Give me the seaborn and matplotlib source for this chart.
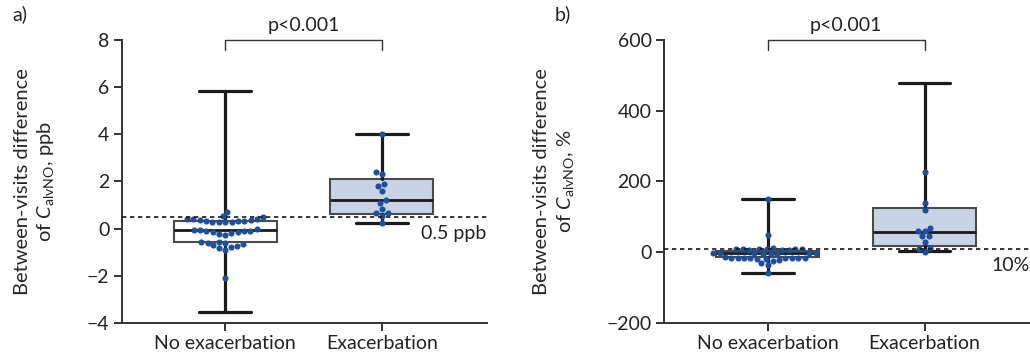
import numpy as np
import pandas as pd
import seaborn as sns
import matplotlib.pyplot as plt

groups = ["No exacerbation", "Exacerbation"]

# panel a: between-visits difference, ppb
a_no = [0.72, 0.52, 0.48, 0.42, 0.40, 0.40, 0.38, 0.36, 0.34, 0.32, 0.32, 0.30,
        0.28, 0.30, 0.30, -0.02, -0.05, -0.05, -0.08, -0.10, -0.12, -0.15, -0.15,
        -0.18, -0.22, -0.25, -0.55, -0.58, -0.60, -0.62, -0.65, -0.70, -0.75,
        -0.78, -0.82, -0.90, -2.08]
a_ex = [4.0, 2.4, 2.3, 1.9, 1.8, 1.6, 1.2, 1.1, 0.85, 0.65, 0.65, 0.55, 0.22]
# box stats: whislo, q1, median, q3, whishi
a_box = [[-3.55, -0.55, -0.05, 0.32, 5.82], [0.22, 0.62, 1.2, 2.1, 4.0]]

# panel b: between-visits difference, %
b_no = [150, 48, 13, 10, 10, 9, 9, 8, 8, 7, 7, 6, -2, -2, -3, -3, -3, -4, -4, -5,
        -14, -15, -15, -15, -16, -16, -16, -17, -17, -18, -18, -22, -25, -30, -35, -58]
b_ex = [226, 138, 119, 68, 61, 59, 45, 45, 29, 12, 9, 2]
b_box = [[-58, -13.5, -2, 4.5, 150], [4.5, 18.5, 58, 126, 479]]

sns.set_theme(style="ticks")
plt.rcParams["font.family"] = ["Lato", "DejaVu Sans"]
plt.rcParams["mathtext.fontset"] = "custom"
plt.rcParams["mathtext.rm"] = "Lato"
plt.rcParams["mathtext.it"] = "Lato:italic"

fig = plt.figure(figsize=(10.3, 3.54), dpi=100)
ax_a = fig.add_axes([0.1184, 0.0876, 0.354, 0.7994])
ax_b = fig.add_axes([0.6447, 0.0876, 0.355, 0.7994])

dot_col = "#1f4e9b"
fills = ["white", "#c8d3e5"]
fs = 14


def panel(ax, no, ex, box, ylim, yticks, ref, ref_label, unit, tag):
    df = pd.DataFrame({"grp": [groups[0]] * len(no) + [groups[1]] * len(ex),
                       "val": no + ex})
    stats = []
    for g, b in zip(groups, box):
        stats.append(dict(whislo=b[0], q1=b[1], med=b[2], q3=b[3], whishi=b[4],
                          label=g, fliers=[]))
    bp = ax.bxp(stats, positions=[0, 1], widths=0.66, patch_artist=True,
                showfliers=False,
                boxprops=dict(edgecolor="#4a4a4a", linewidth=1.5),
                whiskerprops=dict(color="#1a1a1a", linewidth=2.3),
                capprops=dict(color="#1a1a1a", linewidth=2.3),
                medianprops=dict(color="#1a1a1a", linewidth=2.0),
                capwidths=0.33, zorder=2)
    for patch, f in zip(bp["boxes"], fills):
        patch.set_facecolor(f)
    sns.swarmplot(data=df, x="grp", y="val", order=groups, ax=ax, color=dot_col,
                  size=4.4, zorder=3)
    ax.axhline(ref, color="#1a1a1a", linestyle=(0, (2.6, 2.2)), linewidth=1.2,
               zorder=4, clip_on=False)
    ax.set_xlim(-0.66, 1.67)
    ax.set_ylim(*ylim)
    ax.set_yticks(yticks)
    ax.set_yticklabels([str(t).replace("-", "\u2212") for t in yticks])
    ax.set_xticks([0, 1])
    ax.set_xticklabels(groups)
    ax.set_xlabel("")
    ax.set_ylabel("Between-visits difference\nof $\\it{C}_{\\rm alvNO}$, " + unit,
                  fontsize=14.5, linespacing=1.3, labelpad=22)
    ax.tick_params(labelsize=fs, length=6, width=1.4, color="#333333",
                   labelcolor="#222222", pad=3)
    for s in ("top", "right"):
        ax.spines[s].set_visible(False)
    for s in ("left", "bottom"):
        ax.spines[s].set_linewidth(1.4)
        ax.spines[s].set_color("#333333")
    # significance bracket
    top = ylim[1]
    dy = (ylim[1] - ylim[0]) * 0.035
    ax.plot([0, 0, 1, 1], [top - dy, top, top, top - dy], color="#333333",
            linewidth=1.0, clip_on=False)
    ax.text(0.5, top + dy * 0.6, "p<0.001", ha="center", va="bottom",
            fontsize=fs, color="#222222")
    ax.text(1.67, ref - (ylim[1] - ylim[0]) * 0.03, ref_label, ha="right",
            va="top", fontsize=fs, color="#222222")
    ax.text(-0.3, 1.06, tag, transform=ax.transAxes, fontsize=fs,
            color="#222222", ha="left", va="bottom")


panel(ax_a, a_no, a_ex, a_box, (-4, 8), [-4, -2, 0, 2, 4, 6, 8], 0.5, "0.5 ppb",
      "ppb", "a)")
panel(ax_b, b_no, b_ex, b_box, (-200, 600), [-200, 0, 200, 400, 600], 10, "10%",
      "%", "b)")

fig.savefig("out.png", dpi=100)
